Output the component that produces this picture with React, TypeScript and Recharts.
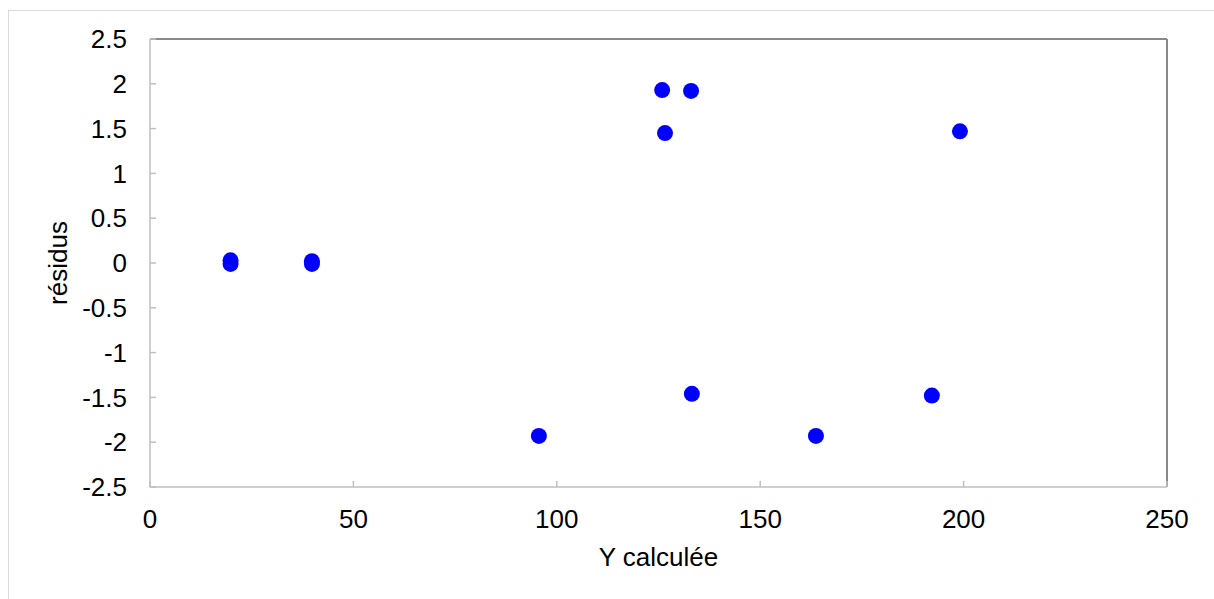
import React from 'react';
import {
  ScatterChart,
  Scatter,
  XAxis,
  YAxis,
  ReferenceLine,
} from 'recharts';

// Y calculée (x) vs résidus (y)
const yCalc = [19.8, 19.8, 39.8, 39.8, 95.6, 125.9, 133.0, 126.6, 199.1, 133.2, 163.7, 192.2];
const residus = [0.03, -0.01, 0.02, -0.01, -1.93, 1.93, 1.92, 1.45, 1.47, -1.46, -1.93, -1.48];

const xTicks = [0, 50, 100, 150, 200, 250];
const yTicks = [-2.5, -2, -1.5, -1, -0.5, 0, 0.5, 1, 1.5, 2, 2.5];

const points = yCalc.map((x, i) => ({ x, y: residus[i] }));

const FONT = 'Liberation Sans, Arial, sans-serif';
const tickStyle = { fill: '#000', fontSize: 26, fontFamily: FONT };

const Dot = (props: { cx?: number; cy?: number }) => (
  <circle cx={props.cx} cy={props.cy} r={8} fill="#0000ff" />
);

export default function App() {
  return (
    <div
      style={{
        position: 'absolute',
        left: 8,
        top: 10,
        width: 1205,
        height: 588,
        borderLeft: '1px solid #d9d9d9',
        borderTop: '1px solid #d9d9d9',
        background: '#fff',
      }}
    >
      <ScatterChart
        width={1205}
        height={588}
        margin={{ top: 28, right: 47, bottom: 82, left: 0 }}
      >
        <XAxis
          type="number"
          dataKey="x"
          domain={[0, 250]}
          ticks={xTicks}
          tickSize={-6}
          tickMargin={29}
          height={30}
          stroke="#bfbfbf"
          strokeWidth={1.5}
          tick={tickStyle}
          label={{
            value: 'Y calculée',
            position: 'bottom',
            offset: 31,
            fill: '#000',
            fontSize: 26,
            fontFamily: FONT,
          }}
        />
        <YAxis
          type="number"
          dataKey="y"
          domain={[-2.5, 2.5]}
          ticks={yTicks}
          tickSize={-6}
          tickMargin={29}
          width={141}
          stroke="#bfbfbf"
          strokeWidth={1.5}
          tick={tickStyle}
          label={{
            value: 'résidus',
            angle: -90,
            position: 'insideLeft',
            offset: 49,
            fill: '#000',
            fontSize: 26,
            fontFamily: FONT,
            style: { textAnchor: 'middle' },
          }}
        />
        <ReferenceLine y={2.5} stroke="#898989" strokeWidth={2} />
        <ReferenceLine x={250} stroke="#898989" strokeWidth={2} />
        <Scatter data={points} shape={<Dot />} isAnimationActive={false} />
      </ScatterChart>
    </div>
  );
}
